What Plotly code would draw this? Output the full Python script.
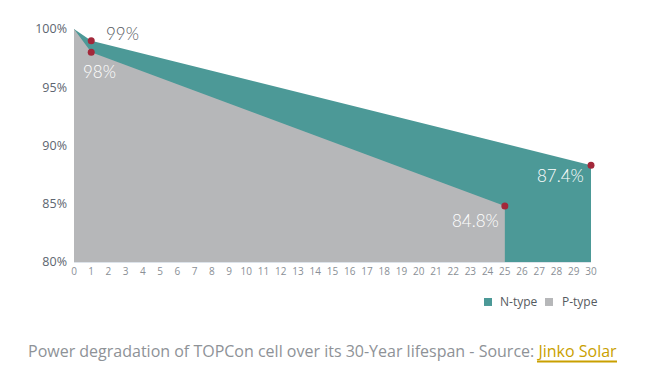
import plotly.graph_objects as go

years = list(range(0, 31))
n_x = [0, 1, 30]
n_y = [100, 99, 88.3]
p_x = [0, 1, 25]
p_y = [100, 98, 84.8]
y_ticks = [80, 85, 90, 95, 100]
y_tick_text = ["80%", "85%", "90%", "95%", "100%"]
mark_x = [1, 1, 25, 30]
mark_y = [99, 98, 84.8, 88.3]
labels = ["99%", "98%", "84.8%", "87.4%"]
series_names = ["N-type", "P-type"]

TEAL = "#4C9997"
GRAY = "#B6B7B9"
RED = "#A3283A"
GOLD = "#C9A000"

# page has an 8px body margin; figure coords = page coords - 8
L, T = 66, 15
PW, PH = 517, 239
W, H = 650, 376

def px(xf):
    return (xf - L) / PW

def py(yf):
    return (T + PH - yf) / PH

fig = go.Figure()
fig.add_trace(go.Scatter(x=n_x, y=n_y, fill="tozeroy", mode="none", fillcolor=TEAL,
                         name=series_names[0], hoverinfo="skip", showlegend=False))
fig.add_trace(go.Scatter(x=p_x, y=p_y, fill="tozeroy", mode="none", fillcolor=GRAY,
                         name=series_names[1], hoverinfo="skip", showlegend=False))
fig.add_trace(go.Scatter(x=mark_x, y=mark_y, mode="markers", cliponaxis=False,
                         marker=dict(color=RED, size=7), showlegend=False, hoverinfo="skip"))

# value labels
offsets = [(31, 7, "#555a60"), (8, -19, "white"), (-29, -14, "white"), (-31, -10, "white")]
for x, y, t, (dx, dy, c) in zip(mark_x, mark_y, labels, offsets):
    fig.add_annotation(x=x, y=y, text=t, showarrow=False, xshift=dx, yshift=dy,
                       font=dict(family="Lato", size=17, color=c, weight=300))

# custom legend
for name, col, sq_x, tx_x in [(series_names[0], TEAL, 480, 490), (series_names[1], GRAY, 541, 552)]:
    fig.add_shape(type="rect", xref="paper", yref="paper",
                  xsizemode="pixel", ysizemode="pixel",
                  xanchor=px(sq_x), yanchor=py(295),
                  x0=-4, x1=4, y0=-4, y1=4, line=dict(width=0), fillcolor=col)
    fig.add_annotation(xref="paper", yref="paper", x=px(tx_x), y=py(295),
                       xanchor="left", yanchor="middle", text=name, showarrow=False,
                       font=dict(family="Open Sans", size=12, color="#555a60"))

# caption
fig.add_annotation(xref="paper", yref="paper", x=px(314), y=py(345), xanchor="center",
                   yanchor="middle",
                   text="Power degradation of TOPCon cell over its 30-Year lifespan - Source: "
                        "<span style='color:" + GOLD + "'>Jinko Solar</span>",
                   showarrow=False, font=dict(family="Open Sans", size=16, color="#8e9297"))
fig.add_shape(type="line", xref="paper", yref="paper",
              x0=px(529), x1=px(609), y0=py(356), y1=py(356),
              line=dict(color=GOLD, width=2))

fig.update_layout(
    width=W, height=H,
    margin=dict(l=L, r=W - L - PW, t=T, b=H - T - PH),
    paper_bgcolor="white", plot_bgcolor="white",
    showlegend=False,
    xaxis=dict(range=[0, 30], tickvals=years, ticktext=[str(v) for v in years],
               showgrid=False, zeroline=False, showline=True, linecolor="#dde3ea",
               ticks="", tickfont=dict(family="Open Sans", size=10, color="#8a8f96")),
    yaxis=dict(range=[80, 100], tickvals=y_ticks, ticktext=y_tick_text,
               showgrid=False, zeroline=False, showline=False, ticks="",
               ticklabelstandoff=6,
               tickfont=dict(family="Open Sans", size=12.5, color="#5d6570")),
)
fig.write_html("out.html")
